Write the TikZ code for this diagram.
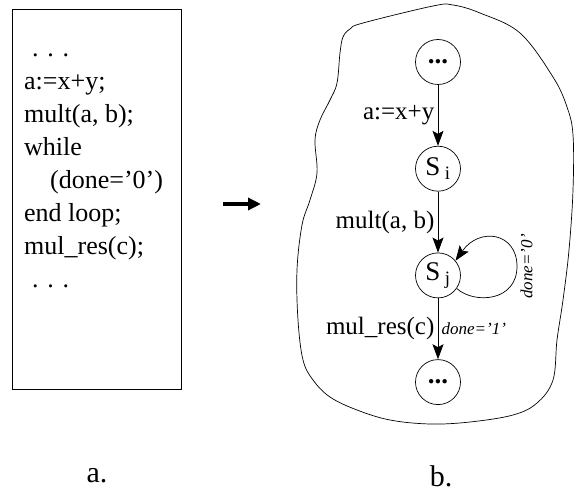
\documentclass[tikz,border=0pt]{standalone}
\usepackage{fontspec}
\setmainfont{Liberation Serif}
\usetikzlibrary{positioning,arrows.meta,calc}

\begin{document}
\begin{tikzpicture}[
    x=1pt, y=-1pt,
    state/.style={circle, draw, line width=0.7pt, minimum size=45pt, inner sep=0pt, font=\fontsize{27}{30}\selectfont},
    trans/.style={line width=0.7pt, -{Stealth[length=15pt, width=11pt, inset=3pt]}},
    codeline/.style={anchor=base west, inner sep=0pt, font=\fontsize{26}{30}\selectfont},
    elbl/.style={font=\fontsize{25}{30}\selectfont},
    cond/.style={font=\itshape\fontsize{17}{20}\selectfont},
    caption/.style={font=\fontsize{30}{34}\selectfont},
    node distance=61pt,
]
\useasboundingbox (0,0) rectangle (574,500);

% program text
\node[draw, line width=0.7pt, minimum width=169pt, minimum height=380pt, inner sep=0pt] (code) at (96.5,199) {};
\foreach \txt [count=\i] in {\hspace*{8pt}. . ., a:=x+y;, {mult(a, b);}, while, \hspace*{26pt}(done=’0’), end loop;, mul\_res(c);, \hspace*{8pt}. . .}
    \node[codeline] (line\i) at (24, 24+33*\i) {\txt};

% arrow between the two parts
\coordinate (from) at (223,204);
\coordinate (to) at (261,204);
\draw[line width=3.5pt, -{Triangle[length=13pt, width=12pt]}] (from) -- (to);

% region around the states
\draw[line width=0.7pt] plot[smooth cycle, tension=0.6] coordinates {
    (433,6) (453,5) (480,13) (520,33) (553,77) (567,107) (573,135) (573,190)
    (569,250) (563,300) (557,340) (553,380) (537,403) (513,415) (470,422)
    (430,424) (390,420) (357,410) (330,397) (313,380) (303,360) (298,320)
    (297,270) (302,225) (310,200) (317,173) (315,140) (320,120) (330,100)
    (337,83) (340,53) (343,37) (350,29) (363,23)};

% states
\node[state] (top) at (438,62) {\textbf{...}};
\node[state, below=of top] (si) {S\,\textsubscript{i}};
\node[state, below=of si] (sj) {S\,\textsubscript{j}};
\node[state, below=of sj] (bot) {\textbf{...}};

% transitions
\draw[trans] (top) -- node[elbl, left] {a:=x+y} (si);
\draw[trans] (si) -- node[elbl, left] {mult(a, b)} (sj);
\draw[trans] (sj) -- node[elbl, left] {mul\_res(c)} node[cond, right] {done=’1’} (bot);
\draw[trans] (sj.-35) .. controls +(18,16) and +(0,35) .. ($(sj)+(79,-9)$)
    node[cond, rotate=90, anchor=north] {done=’0’}
    .. controls +(0,-34) and +(24,-34) .. (sj.40);

% captions
\node[caption] (capa) at (97,476) {a.};
\node[caption] (capb) at (441,476) {b.};
\end{tikzpicture}
\end{document}
